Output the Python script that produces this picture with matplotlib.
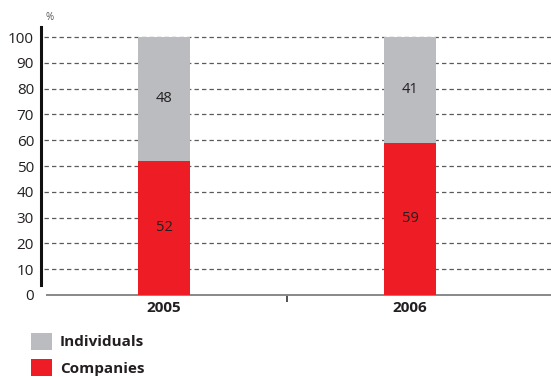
import matplotlib
matplotlib.use("Agg")
import matplotlib.pyplot as plt
from matplotlib.patches import Patch

years = ["2005", "2006"]
companies = [52, 59]
individuals = [48, 41]
yticks = [0, 10, 20, 30, 40, 50, 60, 70, 80, 90, 100]

grey = "#bbbcbf"
red = "#ee1c25"
text_col = "#231f20"

plt.rcParams["font.family"] = ["Open Sans", "DejaVu Sans"]

fig = plt.figure(figsize=(5.51, 3.77), dpi=100)
W, H = 551, 377
left, right, top, bottom = 41, 551, 27, 295
ax = fig.add_axes([left / W, 1 - bottom / H, (right - left) / W, (bottom - top) / H])

x = list(range(len(years)))
ax.bar(x, companies, width=0.215, color=red, zorder=3)
ax.bar(x, individuals, width=0.215, bottom=companies, color=grey, zorder=3)

for xi, c, i in zip(x, companies, individuals):
    ax.text(xi, c / 2, f"{c}", ha="center", va="center", fontsize=10.5, color=text_col, zorder=4)
    ax.text(xi, c + i / 2, f"{i}", ha="center", va="center", fontsize=10.5, color=text_col, zorder=4)

ax.set_xlim(-0.5, 1.573)
ax.set_ylim(0, 103.9)

# dashed horizontal guides
for v in yticks[1:]:
    ax.plot([-0.488, 1.573], [v, v], ls=(0, (3.5, 2.5)), lw=0.9, color="#5a5a5a", zorder=1)

ax.spines["top"].set_visible(False)
ax.spines["right"].set_visible(False)
ax.spines["left"].set_linewidth(2.2)
ax.spines["left"].set_color("#111111")
ax.spines["left"].set_bounds(3.9, 103.9)
ax.spines["bottom"].set_color("#888888")
ax.spines["bottom"].set_linewidth(1.4)
ax.spines["bottom"].set_bounds(-0.476, 1.573)

ax.set_yticks(yticks)
ax.set_yticklabels([str(v) for v in yticks], fontsize=11, color=text_col)
ax.tick_params(axis="y", length=0, pad=5)

ax.set_xticks(x)
ax.set_xticklabels(years, fontsize=11, fontweight="bold", color=text_col)
ax.tick_params(axis="x", length=0, pad=4)
ax.set_xticks([0.5], minor=True)
ax.tick_params(axis="x", which="minor", length=5, width=1.2, color="#333333", direction="out")

fig.text(50 / W, 1 - 18 / H, "%", fontsize=7, color="#555555", ha="center", va="center")

handles = [Patch(facecolor=grey, edgecolor="none"), Patch(facecolor=red, edgecolor="none")]
fig.legend(handles, ["Individuals", "Companies"], loc="upper left",
           bbox_to_anchor=(31 / W, 1 - 333 / H), frameon=False,
           borderpad=0, borderaxespad=0,
           prop={"size": 11, "weight": "bold"}, handlelength=1.4, handleheight=1.3,
           handletextpad=0.5, labelspacing=0.62, labelcolor=text_col)

fig.savefig("out.png", dpi=100)
